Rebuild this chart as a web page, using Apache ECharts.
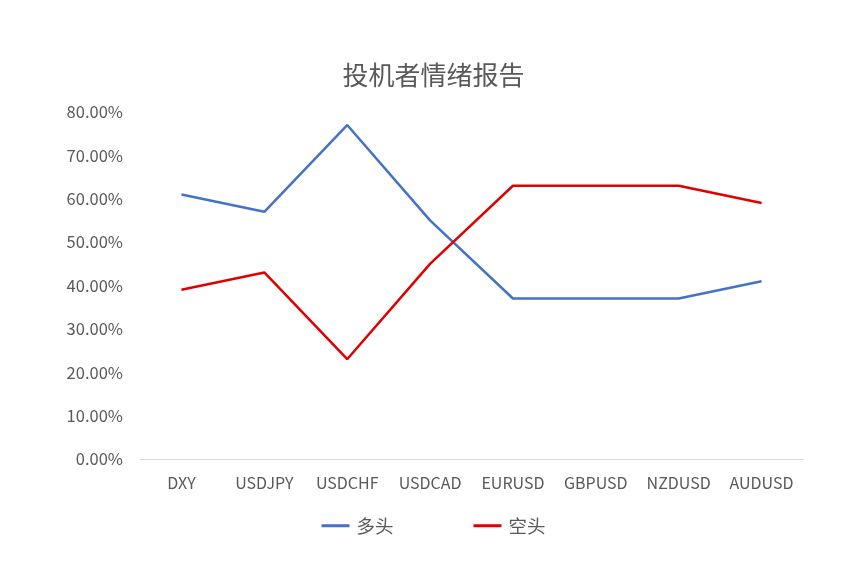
<!DOCTYPE html>
<html><head><meta charset="utf-8">
<script src="https://cdn.jsdelivr.net/npm/echarts@6/dist/echarts.min.js"></script>
<style>html,body{margin:0;padding:0;background:#fff}#c{width:867px;height:581px}</style>
</head><body><div id="c"></div>
<script>
const categories = ['DXY','USDJPY','USDCHF','USDCAD','EURUSD','GBPUSD','NZDUSD','AUDUSD'];
const longValues = [0.61,0.57,0.77,0.55,0.37,0.37,0.37,0.41];
const shortValues = [0.39,0.43,0.23,0.45,0.63,0.63,0.63,0.59];
const seriesNames = ['多头','空头'];
const titleText = '投机者情绪报告';

const font = '"Noto Sans CJK SC", "Noto Sans", sans-serif';
const chart = echarts.init(document.getElementById('c'), null, {renderer:'canvas'});
chart.setOption({
  animation:false,
  backgroundColor:'#fff',
  title:{text:titleText,left:'center',top:57,textStyle:{fontFamily:font,fontSize:26,fontWeight:'normal',color:'#595959'}},
  grid:{left:140,right:64,top:112,bottom:122,containLabel:false},
  legend:{bottom:41,left:'center',itemGap:80,itemWidth:28,itemHeight:3,icon:'rect',
    textStyle:{fontFamily:font,fontSize:18.5,color:'#595959',padding:[0,0,0,2]},data:seriesNames},
  xAxis:{type:'category',data:categories,boundaryGap:true,
    axisLine:{lineStyle:{color:'#d9d9d9',width:1}},axisTick:{show:false},
    axisLabel:{interval:0,fontFamily:font,fontSize:16,color:'#595959',margin:16}},
  yAxis:{type:'value',min:0,max:0.8,interval:0.1,
    axisLine:{show:false},axisTick:{show:false},splitLine:{show:false},
    axisLabel:{fontFamily:font,fontSize:16.5,color:'#595959',margin:17,formatter:v=>(v*100).toFixed(2)+'%'}},
  series:[
    {name:seriesNames[0],type:'line',data:longValues,symbol:'none',lineStyle:{color:'#4472C4',width:2.5},itemStyle:{color:'#4472C4'}},
    {name:seriesNames[1],type:'line',data:shortValues,symbol:'none',lineStyle:{color:'#E00000',width:2.5},itemStyle:{color:'#E00000'}}
  ]
});
</script></body></html>
